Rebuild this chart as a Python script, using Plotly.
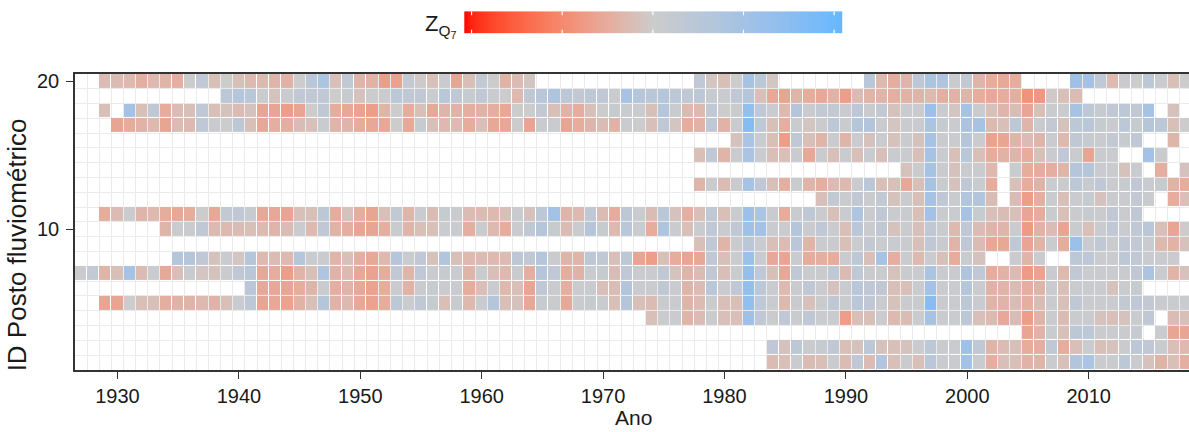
import numpy as np
import plotly.graph_objects as go

N = None

# Years (columns) and gauging-station IDs (rows)
anos = list(range(1927, 2019))
postos = list(range(1, 21))

# Standardised Q7 anomaly per station: (first year, yearly values; None = no data)
posto_20 = (1929, [-0.25,
    -0.25, -0.3, -0.45, -0.3, -0.35, -0.45, 0.0, 0.34, -0.2, 0.0,
    -0.2, -0.3, -0.3, -0.35, -0.4, 0.0, 0.51, 0.85, -0.2, 0.34,
    -0.35, -0.4, -0.7, -0.65, 0.25, -0.05, -0.2, 0.08, -0.6, -0.2,
    0.25, 0.0, -0.4, -0.25, -0.1, N, N, N, N, N,
    N, N, N, N, N, N, N, N, 0.34, -0.1,
    -0.2, 0.0, 0.94, 0.43, -0.1, N, N, N, N, N,
    N, N, 0.51, -0.3, -0.5, -0.35, 0.43, 0.85, 0.77, 0.08,
    0.25, -0.35, -0.5, -0.55, -0.5, N, N, N, N, 1.1,
    1.02, 0.34, -0.3, 0.08, 0.0, 0.43, 0.08, -0.2, 0.0])
posto_19 = (1939, [0.43,
    0.6, 0.51, 0.08, -0.15, 0.08, 0.34, 0.34, 0.34, 0.0, 0.17,
    -0.15, 0.0, 0.08, 0.43, 0.34, 0.34, 0.08, 0.51, 0.34, 0.17,
    0.34, 0.08, 0.0, -0.3, 0.34, 0.51, 0.77, 0.43, 0.25, 0.43,
    0.34, 0.08, 0.94, 0.6, 0.51, 0.6, 0.43, 0.34, 0.43, 0.17,
    0.08, 0.34, 0.6, -0.2, -0.55, -0.6, -0.35, -0.5, -0.55, -0.4,
    -0.7, -0.25, -0.35, -0.35, -0.45, -0.4, -0.35, -0.3, -0.45, -0.4,
    -0.35, -0.5, -0.55, -0.5, -0.45, -0.85, -0.8, -0.05, -0.2, -0.25])
posto_18 = (1929, [-0.2,
    N, 1.02, -0.2, 0.34, -0.5, -0.25, -0.2, 0.34, -0.2, -0.15,
    -0.25, -0.15, -0.6, -0.6, -0.7, -0.6, 0.0, 0.34, -0.5, -0.55,
    -0.65, -0.7, -0.35, 0.0, -0.5, -0.2, -0.55, -0.35, -0.4, -0.45,
    -0.4, -0.45, -0.55, 0.0, 0.0, 0.25, -0.2, -0.4, -0.5, -0.2,
    0.0, 0.17, 0.08, 0.08, -0.2, 0.6, 0.08, -0.3, -0.3, 0.34,
    0.0, 0.08, 1.36, 0.34, 0.08, -0.3, 0.6, 0.08, 0.25, 0.25,
    0.08, 0.43, 0.08, 0.25, -0.15, 0.08, 0.08, 1.19, 0.08, -0.1,
    0.94, 0.08, -0.2, -0.35, -0.25, -0.6, -0.2, 0.08, 0.08, 0.94,
    0.43, 0.17, 0.34, 0.43, 0.34, 0.94, N, -0.15])
posto_17 = (1930, [
    -0.6, -0.5, -0.4, -0.3, -0.6, -0.25, -0.3, 0.34, 0.08, 0.0,
    0.43, -0.2, -0.55, -0.45, -0.45, -0.25, -0.2, 0.08, -0.35, -0.35,
    -0.5, -0.55, -0.55, 0.0, -0.55, 0.17, -0.2, -0.3, -0.25, -0.5,
    -0.2, -0.55, -0.55, 0.0, -0.6, 0.08, 0.08, -0.6, -0.5, -0.35,
    -0.25, -0.4, 0.08, 0.0, -0.2, 0.34, -0.1, -0.5, -0.4, 0.34,
    -0.4, 0.08, 1.62, 0.34, -0.2, -0.45, 0.08, -0.1, 0.08, 0.43,
    0.08, 0.6, 0.68, 0.08, -0.1, 0.08, 0.08, 0.85, 0.17, 0.08,
    0.85, 0.94, -0.3, -0.2, 0.43, -0.35, 0.08, 0.25, -0.15, 0.43,
    0.51, 0.17, 0.08, 0.43, 0.17, 0.6, 0.43, -0.2, 0.0])
posto_16 = (1981, [-0.15, 0.85, 0.08, -0.2, -0.7, 0.34, -0.2, -0.35, 0.08,
    -0.35, 0.08, -0.15, 0.08, -0.15, 0.08, -0.15, 0.94, 0.08, 0.08,
    0.6, 0.08, -0.65, -0.6, -0.35, -0.25, -0.35, 0.08, -0.3, 0.34,
    0.17, 0.08, 0.25, 0.17, 0.34, N, N, -0.35])
posto_15 = (1978, [-0.2, 0.34,
    -0.35, 0.08, 0.85, 0.08, -0.2, -0.2, 0.08, -0.55, 0.08, -0.2,
    0.08, -0.2, 0.08, -0.2, 0.08, 0.08, -0.2, 0.94, 0.08, -0.2,
    0.51, -0.2, -0.5, -0.4, -0.35, -0.5, -0.2, 0.08, 0.34, 0.08,
    -0.6, 0.08, 0.08, N, N, 1.02, 0.08])
posto_14 = (1995, [-0.15, 0.08, 0.94, 0.08, -0.15,
    0.08, 0.08, -0.3, N, 0.08, -0.5, -0.5, -0.45, -0.35, 0.6,
    0.6, 0.08, 0.08, -0.15, 0.08, N, -0.45, N, -0.15])
posto_13 = (1978, [-0.35, 0.08,
    -0.25, 0.08, 0.94, 0.34, -0.2, -0.45, 0.08, -0.35, -0.45, -0.25,
    -0.3, 0.08, 0.51, -0.2, -0.2, -0.55, -0.2, 0.94, 0.08, -0.15,
    0.34, 0.08, -0.5, N, -0.2, -0.5, -0.4, 0.08, 0.08, 0.43,
    0.17, 0.34, 0.08, 0.17, 0.34, 0.08, 0.17, -0.4, -0.5])
posto_12 = (1988, [-0.2, 0.25,
    0.08, 0.34, 0.08, 0.25, -0.15, 0.08, -0.2, 0.94, 0.34, 0.08,
    0.68, 0.68, -0.25, N, -0.25, -0.7, -0.45, 0.08, -0.2, 0.08,
    0.17, -0.15, 0.08, 0.08, 0.25, 0.08, N, -0.5, -0.2])
posto_11 = (1929, [-0.5,
    -0.25, 0.08, -0.35, -0.3, -0.5, -0.55, -0.5, 0.0, -0.55, 0.25,
    0.34, 0.17, -0.55, -0.55, -0.6, -0.2, -0.2, 0.43, -0.5, -0.15,
    -0.5, -0.6, -0.2, 0.25, -0.35, 0.08, -0.25, 0.17, 0.08, -0.25,
    -0.25, -0.3, -0.2, 0.08, -0.15, 0.43, 1.02, -0.35, -0.3, 0.34,
    -0.25, -0.5, 0.43, 0.08, -0.25, 0.51, -0.15, -0.45, -0.2, 0.34,
    -0.2, 0.08, 1.19, 0.85, 0.08, -0.5, 0.08, 0.34, 0.08, -0.2,
    0.08, 0.77, 0.08, 0.34, 0.08, 0.08, -0.2, 1.02, 0.08, 0.08,
    0.94, 0.17, -0.2, -0.25, -0.2, -0.6, -0.5, 0.08, -0.2, 0.08,
    0.17, 0.08, 0.34, 0.08, 0.34])
posto_10 = (1934, [-0.35, 0.08, 0.08, 0.34, -0.3, -0.3,
    -0.25, -0.2, -0.3, -0.35, -0.25, 0.08, -0.3, 0.34, -0.4, -0.45,
    -0.6, -0.6, -0.45, 0.08, -0.35, -0.2, -0.2, 0.08, 0.08, -0.45,
    0.08, -0.3, -0.5, 0.08, 0.34, 0.6, 0.17, -0.25, 0.08, 0.6,
    0.17, -0.3, 0.51, 0.08, -0.5, 0.77, 0.08, -0.2, 0.08, 0.34,
    0.08, 0.34, 1.1, 1.02, 0.08, 0.08, 0.6, 0.08, 0.34, 0.08,
    -0.2, 0.51, 0.08, 0.34, -0.15, 0.08, -0.2, 0.34, 0.08, -0.3,
    0.34, -0.25, -0.35, -0.35, 0.08, -0.75, -0.4, -0.25, -0.6, 0.08,
    -0.2, 0.08, 0.34, 0.08, 0.34, 0.51, -0.2, -0.6, 0.0])
posto_09 = (1978, [-0.2, 0.34,
    -0.35, 0.08, 0.51, 0.08, -0.2, -0.25, 0.51, -0.35, 0.08, 0.08,
    -0.2, 0.08, 0.25, 0.08, 0.08, 0.08, -0.2, 0.34, 0.08, -0.35,
    0.34, -0.25, -0.55, -0.55, 0.34, -0.6, -0.35, 0.08, -0.5, 1.19,
    0.08, 0.34, 0.08, 0.34, 0.25, 0.08, -0.3, -0.4, -0.15])
posto_08 = (1935, [0.6, 0.6, 0.34, -0.15, 0.08,
    -0.1, 0.6, -0.3, -0.25, -0.3, 0.6, 0.08, 0.08, -0.35, -0.2,
    -0.45, -0.55, -0.3, 0.6, 0.08, 0.34, -0.15, 0.68, -0.2, -0.3,
    -0.25, -0.3, -0.25, 0.43, 0.34, 0.6, 0.08, -0.35, -0.35, 0.43,
    0.34, -0.2, 0.43, -0.6, -0.7, -0.2, -0.5, -0.6, -0.55, 0.34,
    -0.2, 0.08, 1.19, 0.08, -0.55, -0.6, 0.08, -0.5, -0.45, -0.5,
    0.08, 0.43, -0.2, 0.94, -0.45, 0.08, -0.3, 0.08, -0.2, -0.5,
    0.08, -0.15, N, N, 0.08, -0.35, 0.08, N, N, 0.43,
    0.43, 0.08, 0.08, 0.43, 0.34, 0.08, 0.08, 0.08])
posto_07 = (1927, [0.08, 0.25, -0.35,
    -0.2, 0.94, -0.25, 0.08, -0.55, -0.2, 0.08, -0.1, -0.15, 0.08,
    0.34, 0.51, -0.55, -0.5, -0.7, -0.35, -0.2, 0.77, -0.4, -0.3,
    -0.55, -0.65, -0.5, 0.34, -0.35, 0.34, 0.08, 0.17, 0.08, -0.35,
    0.08, -0.2, -0.3, 0.08, -0.45, 0.6, 0.34, -0.5, -0.4, 0.08,
    0.17, -0.25, 0.34, 0.08, 0.08, 0.34, -0.15, -0.35, -0.25, 0.34,
    -0.2, 0.08, 1.36, 0.34, -0.2, -0.55, 0.34, 0.08, 0.08, 0.34,
    -0.25, 0.34, 0.08, 0.08, -0.15, 0.08, 0.08, 0.85, 0.08, 0.08,
    0.77, 0.34, -0.5, -0.4, -0.3, -0.75, -0.65, 0.08, -0.3, 0.34,
    0.08, 0.08, 0.08, 0.08, 0.34, 0.85, 0.08, -0.35, -0.15])
posto_06 = (1941, [0.51, -0.55, -0.55, -0.6, -0.5, -0.35, 0.08, -0.45, -0.35,
    -0.55, -0.65, -0.5, 0.08, -0.4, 0.08, 0.17, 0.08, 0.08, -0.5,
    -0.2, 0.08, -0.3, -0.2, -0.6, 0.34, 0.08, -0.45, 0.08, 0.08,
    -0.2, -0.25, 0.68, 0.08, 0.08, 0.34, 0.08, -0.35, -0.25, 0.51,
    0.08, 0.34, 1.36, 0.43, 0.08, -0.3, 0.08, 0.34, 0.08, -0.15,
    0.08, 0.51, 0.34, 0.34, -0.2, -0.2, 0.08, 1.02, 0.08, 0.08,
    0.6, 0.08, -0.4, -0.35, -0.25, -0.45, -0.35, 0.08, -0.2, 0.08,
    0.08, 0.08, -0.15, 0.08, 0.17])
posto_05 = (1929, [-0.6,
    -0.6, 0.0, -0.2, -0.2, -0.45, -0.4, -0.35, -0.3, -0.4, -0.2,
    0.08, 0.43, -0.6, -0.55, -0.65, -0.4, -0.2, 0.6, -0.4, -0.3,
    -0.55, -0.65, -0.5, 0.43, 0.08, 0.34, 0.17, -0.2, 0.08, -0.3,
    0.08, 0.6, -0.2, -0.15, -0.55, 0.17, 0.08, -0.55, 0.08, 0.17,
    0.08, -0.2, 0.6, -0.2, -0.25, 0.08, 0.08, -0.35, -0.25, 0.08,
    -0.2, -0.2, 1.36, 0.34, 0.08, -0.3, 0.08, -0.15, 0.08, 0.34,
    0.08, 0.51, 0.34, 0.08, -0.15, 0.08, 0.08, 1.53, 0.08, 0.08,
    0.43, 0.08, -0.35, -0.35, -0.25, -0.45, -0.25, 0.08, -0.2, 0.34,
    0.08, 0.08, 0.08, 0.25, 0.34, 0.25, 0.08, 0.08, 0.08])
posto_04 = (1974, [-0.2, 0.08, 0.08, -0.35, -0.25, 0.08,
    -0.2, -0.2, 1.1, 0.34, 0.08, 0.34, 0.08, 0.34, 0.08, 0.08,
    -0.7, -0.2, -0.2, 0.08, -0.3, -0.25, 0.08, 0.94, 0.08, 0.08,
    0.43, -0.2, -0.3, -0.55, -0.25, -0.7, -0.35, 0.08, -0.25, 0.08,
    0.08, -0.15, -0.2, -0.15, 0.08, 0.34, N, -0.25, -0.2])
posto_03 = (2005, [-0.6, -0.4, 0.08, -0.2, 0.43,
    0.43, 0.08, 0.08, 0.08, 0.17, N, 0.08, -0.6, -0.6])
posto_02 = (1984, [0.34, -0.15, 0.43, 0.08, 0.17, 0.34,
    -0.2, -0.15, 0.43, -0.15, -0.2, -0.15, 0.08, 0.43, 0.08, 0.08,
    1.1, 0.34, -0.35, -0.25, -0.2, -0.5, -0.45, 0.34, -0.5, -0.2,
    0.08, -0.2, -0.15, 0.08, 0.43, 0.34, 0.08, -0.2, -0.3])
posto_01 = (1984, [-0.25, -0.2, 0.08, -0.25, -0.2, 0.08,
    -0.25, 0.34, -0.25, 0.68, -0.2, 0.08, -0.2, 0.51, 0.08, 0.08,
    1.02, 0.08, -0.45, -0.2, -0.2, -0.4, -0.35, 0.08, -0.2, 0.68,
    0.85, 0.08, 0.08, 0.43, 0.08, -0.15, -0.4, -0.2, -0.45])

series = [posto_01, posto_02, posto_03, posto_04, posto_05, posto_06, posto_07,
          posto_08, posto_09, posto_10, posto_11, posto_12, posto_13, posto_14,
          posto_15, posto_16, posto_17, posto_18, posto_19, posto_20]

# Station x year matrix
z = np.full((len(postos), len(anos)), np.nan)
for i, (ano0, vals) in enumerate(series):
    j0 = anos.index(ano0)
    for k, v in enumerate(vals):
        if v is not None:
            z[i, j0 + k] = v

ZMIN, ZMAX = -2.08, 2.09
COR_BAIXA, COR_MEIO, COR_ALTA = "#FF0000", "#CCCCCC", "#63B8FF"


# --- diverging palette interpolated in CIE Lab (red - grey80 - steelblue1) ---
def _hex_rgb(h):
    h = h.lstrip("#")
    return [int(h[i:i + 2], 16) for i in (0, 2, 4)]


def _lin(c):
    c = c / 255
    return c / 12.92 if c <= 0.04045 else ((c + 0.055) / 1.055) ** 2.4


def _gam(c):
    c = 12.92 * c if c <= 0.0031308 else 1.055 * c ** (1 / 2.4) - 0.055
    return int(round(min(1.0, max(0.0, c)) * 255))


_WN = (0.95047, 1.0, 1.08883)


def _f(t):
    d = 6 / 29
    return t ** (1 / 3) if t > d ** 3 else t / (3 * d * d) + 4 / 29


def _finv(t):
    d = 6 / 29
    return t ** 3 if t > d else 3 * d * d * (t - 4 / 29)


def hex_to_lab(h):
    r, g, b = (_lin(c) for c in _hex_rgb(h))
    x = 0.4124564 * r + 0.3575761 * g + 0.1804375 * b
    y = 0.2126729 * r + 0.7151522 * g + 0.0721750 * b
    zz = 0.0193339 * r + 0.1191920 * g + 0.9503041 * b
    fx, fy, fz = _f(x / _WN[0]), _f(y / _WN[1]), _f(zz / _WN[2])
    return 116 * fy - 16, 500 * (fx - fy), 200 * (fy - fz)


def lab_to_rgb(L, a, b):
    fy = (L + 16) / 116
    fx = fy + a / 500
    fz = fy - b / 200
    x, y, zz = _WN[0] * _finv(fx), _WN[1] * _finv(fy), _WN[2] * _finv(fz)
    r = 3.2404542 * x - 1.5371385 * y - 0.4985314 * zz
    g = -0.9692660 * x + 1.8760108 * y + 0.0415560 * zz
    bb = 0.0556434 * x - 0.2040259 * y + 1.0572252 * zz
    return f"rgb({_gam(r)},{_gam(g)},{_gam(bb)})"


lab_lo, lab_mid, lab_hi = hex_to_lab(COR_BAIXA), hex_to_lab(COR_MEIO), hex_to_lab(COR_ALTA)
escala = []
for p in np.linspace(0, 1, 61):
    v = ZMIN + p * (ZMAX - ZMIN)
    t = v / max(abs(ZMIN), abs(ZMAX))
    alvo = lab_hi if t >= 0 else lab_lo
    t = abs(t)
    lab = [m + (e - m) * t for m, e in zip(lab_mid, alvo)]
    escala.append([float(p), lab_to_rgb(*lab)])

FONTE = "Liberation Sans, Arial, sans-serif"
W, H = 1189, 432
ML, MB = 75, 62
PW, PH = W - ML, H - MB          # plotting area (right margin 0, top margin 0)
PX_ANO = 12.14                    # pixels per year column


def px_x(px):
    return (px - ML) / PW


def px_y(py):
    return (PH - py) / PH


fig = go.Figure()

fig.add_trace(go.Heatmap(
    x=anos, y=postos, z=z, zmin=ZMIN, zmax=ZMAX, colorscale=escala,
    showscale=False, xgap=1, ygap=1, hoverinfo="skip",
))

# horizontal colour key drawn as a thin heatmap strip
barra = np.linspace(ZMIN, ZMAX, 400)
fig.add_trace(go.Heatmap(
    x=barra, y=[0], z=[barra], zmin=ZMIN, zmax=ZMAX, colorscale=escala,
    showscale=False, hoverinfo="skip", xaxis="x2", yaxis="y2",
))

eixo_cor = "#333333"
fig.update_layout(
    width=W, height=H,
    margin=dict(l=ML, r=0, t=0, b=MB),
    paper_bgcolor="white", plot_bgcolor="white",
    font=dict(family=FONTE, color="#1a1a1a"),
    showlegend=False,
    xaxis=dict(
        domain=[0, 1], anchor="y",
        range=[1926.5, 1926.5 + PW / PX_ANO],
        tickmode="array", tickvals=list(range(1930, 2011, 10)),
        ticks="outside", ticklen=7, tickwidth=1.2, tickcolor=eixo_cor,
        tickfont=dict(size=20, color="#1a1a1a"),
        showline=True, linecolor=eixo_cor, linewidth=1.5, mirror=True,
        showgrid=False, zeroline=False,
        minor=dict(tick0=1926.5, dtick=1, showgrid=True,
                   gridcolor="#EBEBEB", gridwidth=1, ticks=""),
    ),
    yaxis=dict(
        domain=[0, px_y(70.7)], anchor="x",
        range=[0.5, 20.5],
        tickmode="array", tickvals=[10, 20],
        ticks="outside", ticklen=7, tickwidth=1.2, tickcolor=eixo_cor,
        tickfont=dict(size=20, color="#1a1a1a"), ticklabelstandoff=3,
        showline=True, linecolor=eixo_cor, linewidth=1.5, mirror=False,
        showgrid=False, zeroline=False,
        minor=dict(tick0=0.5, dtick=1, showgrid=True,
                   gridcolor="#EBEBEB", gridwidth=1, ticks=""),
    ),
    xaxis2=dict(domain=[px_x(464.3), px_x(842.3)], anchor="y2",
                range=[ZMIN, ZMAX], visible=False, fixedrange=True),
    yaxis2=dict(domain=[px_y(30), px_y(7.3)], anchor="x2",
                range=[-0.5, 0.5], visible=False, fixedrange=True),
)

# white tick marks on the colour key
for v in [-2, -1, 0, 1, 2]:
    for y0, y1 in [(-0.5, -0.32), (0.32, 0.5)]:
        fig.add_shape(type="line", xref="x2", yref="y2", x0=v, x1=v, y0=y0, y1=y1,
                      line=dict(color="white", width=1.2), layer="above")

anot = [
    dict(text="Ano", x=px_x(633.5), y=px_y(418), xref="paper", yref="paper",
         xanchor="center", yanchor="middle", showarrow=False,
         font=dict(size=21, family=FONTE, color="#1a1a1a")),
    dict(text="ID Posto fluviométrico", x=px_x(17), y=px_y(244),
         xref="paper", yref="paper", xanchor="center", yanchor="middle",
         textangle=-90, showarrow=False,
         font=dict(size=26, family=FONTE, color="#1a1a1a")),
    dict(text="Z<sub>Q<sub>7</sub></sub>", x=px_x(423), y=px_y(22),
         xref="paper", yref="paper", xanchor="left", yanchor="middle",
         showarrow=False, font=dict(size=22, family=FONTE, color="#1a1a1a")),
]
fig.update_layout(annotations=anot)

fig.write_html("out.html")
